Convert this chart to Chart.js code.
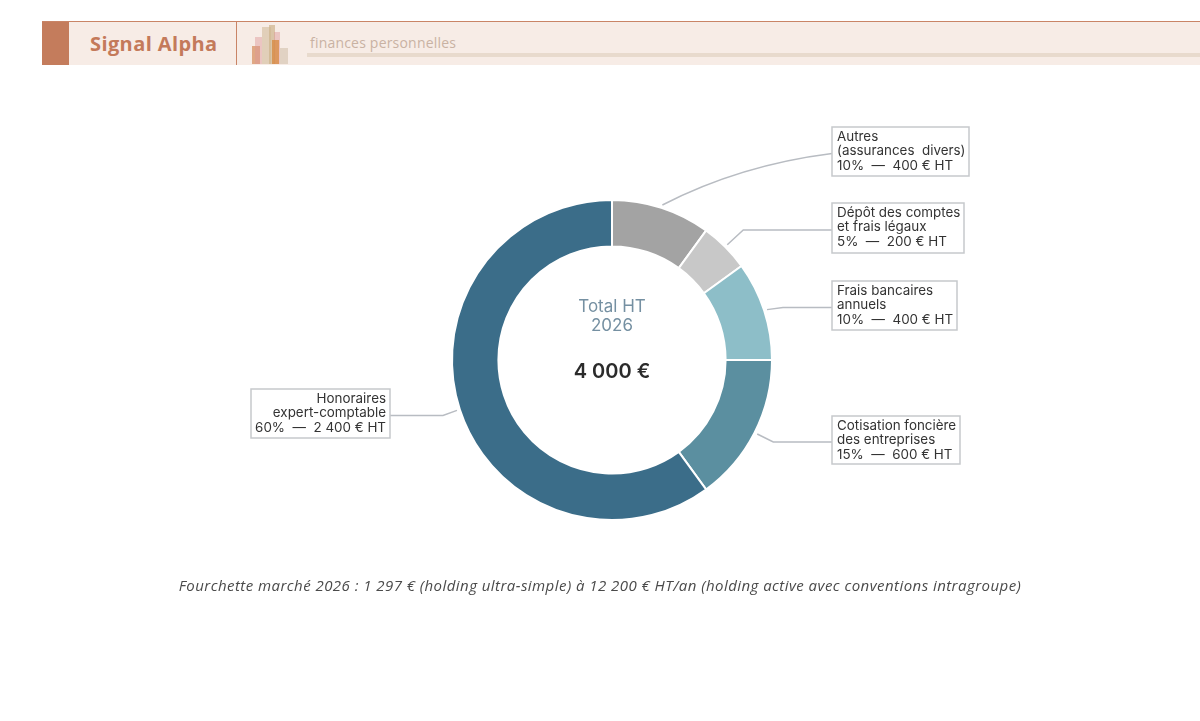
<!DOCTYPE html>
<html>
  <head>
    <meta charset="utf-8">
    <style>
      html, body {
        margin: 0;
        padding: 0;
        background: #ffffff;
      }
      .page {
        position: relative;
        width: 1200px;
        height: 721px;
        overflow: hidden;
      }
      .header {
        position: absolute;
        left: 42px;
        top: 21px;
        width: 1158px;
        height: 43px;
        background: #f7ece6;
        border-top: 1px solid #c98466;
      }
      .header .mark {
        position: absolute;
        left: 0;
        top: 0;
        width: 27px;
        height: 43px;
        background: #c47c5c;
      }
      .header .title {
        position: absolute;
        left: 48px;
        top: 8px;
        font-family: "Open Sans", sans-serif;
        font-weight: 700;
        font-size: 20px;
        color: #c47a5a;
        letter-spacing: 0.4px;
      }
      .header .sep {
        position: absolute;
        left: 194px;
        top: 0;
        width: 1px;
        height: 43px;
        background: #c98466;
      }
      .header .sub {
        position: absolute;
        left: 268px;
        top: 11px;
        font-family: "Open Sans", sans-serif;
        font-weight: 400;
        font-size: 14px;
        color: #c9b2a3;
        letter-spacing: 0.2px;
      }
      .header .rule {
        position: absolute;
        left: 265px;
        top: 31px;
        right: 0;
        height: 4px;
        background: #e8dacd;
      }
      .logo span {
        position: absolute;
        display: block;
      }
      #chart {
        position: absolute;
        left: 0;
        top: 0;
      }
      .note {
        position: absolute;
        left: 0;
        width: 1200px;
        top: 575px;
        text-align: center;
        font-family: "Open Sans", sans-serif;
        font-style: italic;
        font-size: 15px;
        letter-spacing: 0.45px;
        color: #4a4a4a;
      }
    </style>
  </head>
  <body>
    <div class="page">
      <div class="header">
        <div class="mark"></div>
        <div class="title">Signal Alpha</div>
        <div class="sep"></div>
        <div class="logo">
          <span style="left:210px;top:24px;width:8px;height:18px;background:rgba(214,140,90,0.7)"></span>
          <span style="left:213px;top:15px;width:7px;height:27px;background:rgba(220,150,150,0.45)"></span>
          <span style="left:220px;top:5px;width:9px;height:37px;background:rgba(215,195,165,0.7)"></span>
          <span style="left:227px;top:3px;width:6px;height:39px;background:rgba(205,180,140,0.7)"></span>
          <span style="left:232px;top:10px;width:6px;height:32px;background:rgba(220,150,150,0.45)"></span>
          <span style="left:230px;top:18px;width:7px;height:24px;background:rgba(215,135,60,0.75)"></span>
          <span style="left:238px;top:26px;width:8px;height:16px;background:rgba(215,200,180,0.7)"></span>
        </div>
        <div class="sub">finances personnelles</div>
        <div class="rule"></div>
      </div>
      <canvas id="chart" width="1200" height="721"></canvas>
      <div class="note">Fourchette marché 2026 : 1 297 € (holding ultra-simple) à 12 200 € HT/an (holding active avec conventions intragroupe)</div>
    </div>

    <script src="https://cdn.jsdelivr.net/npm/chart.js"></script>
    <script>
      const categories = [
        ['Autres', '(assurances  divers)'],
        ['Dépôt des comptes', 'et frais légaux'],
        ['Frais bancaires', 'annuels'],
        ['Cotisation foncière', 'des entreprises'],
        ['Honoraires', 'expert-comptable'],
      ];
      const amounts = [400, 200, 400, 600, 2400];
      const shares = [10, 5, 10, 15, 60];
      const colors = ['#a3a3a3', '#c8c8c8', '#8dbec8', '#5b8fa0', '#3b6d89'];
      const centerLines = ['Total HT', '2026'];
      const totalLabel = '4 000 €';

      function fmt(n) {
        return String(n).replace(/\B(?=(\d{3})+(?!\d))/g, ' ');
      }

      // where each callout box sits (left, top, width, height, side)
      const boxes = [
        { x: 832, y: 127, w: 137, h: 49, side: 'right', curve: [740, 165] },
        { x: 832, y: 203, w: 132, h: 50, side: 'right' },
        { x: 832, y: 281, w: 125, h: 49, side: 'right' },
        { x: 832, y: 416, w: 128, h: 48, side: 'right' },
        { x: 251, y: 389, w: 139, h: 49, side: 'left' },
      ];

      const calloutPlugin = {
        id: 'callouts',
        afterDatasetsDraw(chart) {
          const ctx = chart.ctx;
          const meta = chart.getDatasetMeta(0);
          ctx.save();
          meta.data.forEach((arc, i) => {
            const mid = (arc.startAngle + arc.endAngle) / 2;
            const r0 = arc.outerRadius + 3;
            const sx = arc.x + Math.cos(mid) * r0;
            const sy = arc.y + Math.sin(mid) * r0;
            const b = boxes[i];
            const ly = b.y + b.h / 2 + 2;
            const ex = b.side === 'right' ? b.x : b.x + b.w;
            ctx.strokeStyle = '#b8bcc2';
            ctx.lineWidth = 1.5;
            ctx.beginPath();
            ctx.moveTo(sx, sy);
            if (b.curve) {
              ctx.quadraticCurveTo(b.curve[0], b.curve[1], ex, ly);
            } else {
              const kx = b.side === 'right' ? sx + 16 : sx - 14;
              ctx.lineTo(kx, ly);
              ctx.lineTo(ex, ly);
            }
            ctx.stroke();

            ctx.fillStyle = '#ffffff';
            ctx.fillRect(b.x, b.y, b.w, b.h);
            ctx.strokeStyle = '#c6c9cc';
            ctx.lineWidth = 1.5;
            ctx.strokeRect(b.x, b.y, b.w, b.h);

            const lines = categories[i].concat([shares[i] + '%  —  ' + fmt(amounts[i]) + ' € HT']);
            ctx.fillStyle = '#333333';
            ctx.font = '13.4px Inter, sans-serif';
            ctx.textBaseline = 'middle';
            ctx.textAlign = b.side === 'right' ? 'left' : 'right';
            const tx = b.side === 'right' ? b.x + 5 : b.x + b.w - 4;
            lines.forEach((t, k) => {
              ctx.fillText(t, tx, b.y + 10 + k * 14.3);
            });
          });

          const cx = meta.data[0].x;
          const cy = meta.data[0].y;
          ctx.textAlign = 'center';
          ctx.textBaseline = 'middle';
          ctx.fillStyle = '#7590a2';
          ctx.font = '17px Inter, sans-serif';
          ctx.fillText(centerLines[0], cx, cy - 53);
          ctx.fillText(centerLines[1], cx, cy - 34);
          ctx.fillStyle = '#2b2b2b';
          ctx.font = '600 20px Inter, sans-serif';
          ctx.fillText(totalLabel, cx, cy + 12);
          ctx.restore();
        },
      };

      const config = {
        type: 'doughnut',
        data: {
          labels: categories.map((c) => c.join(' ')),
          datasets: [
            {
              data: amounts,
              backgroundColor: colors,
              borderColor: '#ffffff',
              borderWidth: 2,
            },
          ],
        },
        options: {
          responsive: false,
          animation: false,
          cutout: '71%',
          layout: {
            padding: { left: 451, right: 427, top: 199, bottom: 200 },
          },
          plugins: {
            legend: { display: false },
            tooltip: { enabled: false },
          },
        },
        plugins: [calloutPlugin],
      };

      new Chart(document.getElementById('chart'), config);
    </script>
  </body>
</html>
